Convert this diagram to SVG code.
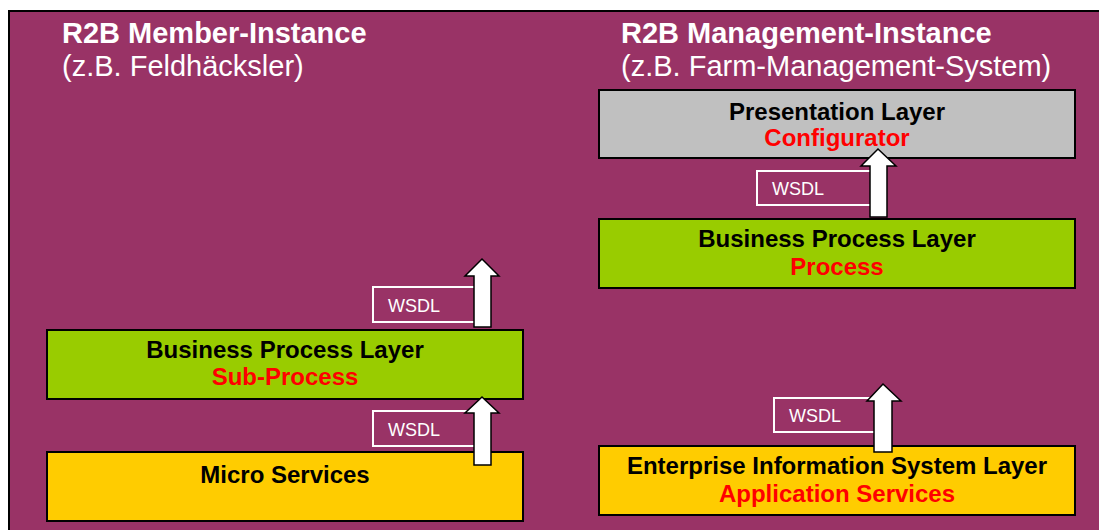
<svg xmlns="http://www.w3.org/2000/svg" width="1099" height="530" viewBox="0 0 1099 530">
<style>
text{font-family:"Liberation Sans",Arial,sans-serif}
.title{font-size:29px;font-weight:bold;fill:#fff}
.sub{font-size:29px;fill:#fff}
.box{stroke:#000;stroke-width:2}
.lbl{font-size:24px;font-weight:bold;fill:#000;text-anchor:middle}
.red{font-size:24px;font-weight:bold;fill:#ff0000;text-anchor:middle}
.wbox{fill:none;stroke:#fff;stroke-width:2}
.wtxt{font-size:18px;fill:#fff}
.arrow{fill:#fff;stroke:#000;stroke-width:1.5}
</style>
<rect x="0" y="0" width="1099" height="530" fill="#fff"/>
<rect x="9" y="11" width="1100" height="530" fill="#993366" stroke="#000" stroke-width="2"/>
<g id="titles">
<text class="title" x="62" y="43">R2B Member-Instance</text>
<text class="sub" x="62" y="76">(z.B. Feldhäcksler)</text>
<text class="title" x="621" y="43">R2B Management-Instance</text>
<text class="sub" x="621" y="76">(z.B. Farm-Management-System)</text>
</g>
<g id="bpl-left">
<rect class="box" x="47" y="330" width="476" height="69" fill="#99cc00"/>
<text class="lbl" x="285" y="358">Business Process Layer</text>
<text class="red" x="285" y="385">Sub-Process</text>
</g>
<g id="micro">
<rect class="box" x="47" y="452" width="476" height="69" fill="#ffcc00"/>
<text class="lbl" x="285" y="483">Micro Services</text>
</g>
<g id="presentation">
<rect class="box" x="599" y="90" width="476" height="68" fill="#c0c0c0"/>
<text class="lbl" x="837" y="120">Presentation Layer</text>
<text class="red" x="837" y="146">Configurator</text>
</g>
<g id="bpl-right">
<rect class="box" x="599" y="219" width="476" height="69" fill="#99cc00"/>
<text class="lbl" x="837" y="247">Business Process Layer</text>
<text class="red" x="837" y="275">Process</text>
</g>
<g id="eis">
<rect class="box" x="599" y="446" width="476" height="69" fill="#ffcc00"/>
<text class="lbl" x="837" y="474">Enterprise Information System Layer</text>
<text class="red" x="837" y="502">Application Services</text>
</g>
<g id="connectors">
<rect class="wbox" x="373" y="287" width="104" height="35"/>
<text class="wtxt" x="388" y="312">WSDL</text>
<path class="arrow" d="M474,327 V276 H465 L482,259 L499,276 H491 V327 Z"/>
<rect class="wbox" x="373" y="411" width="104" height="35"/>
<text class="wtxt" x="388" y="436">WSDL</text>
<path class="arrow" d="M474,465 V413 H465 L482,397 L499,413 H491 V465 Z"/>
<rect class="wbox" x="757" y="171" width="115" height="34"/>
<text class="wtxt" x="772" y="195">WSDL</text>
<path class="arrow" d="M870,217 V166 H861 L878,149 L896,166 H887 V217 Z"/>
<rect class="wbox" x="774" y="398" width="106" height="34"/>
<text class="wtxt" x="789" y="422">WSDL</text>
<path class="arrow" d="M874,452 V401 H867 L883,384 L901,401 H892 V452 Z"/>
</g>
</svg>
